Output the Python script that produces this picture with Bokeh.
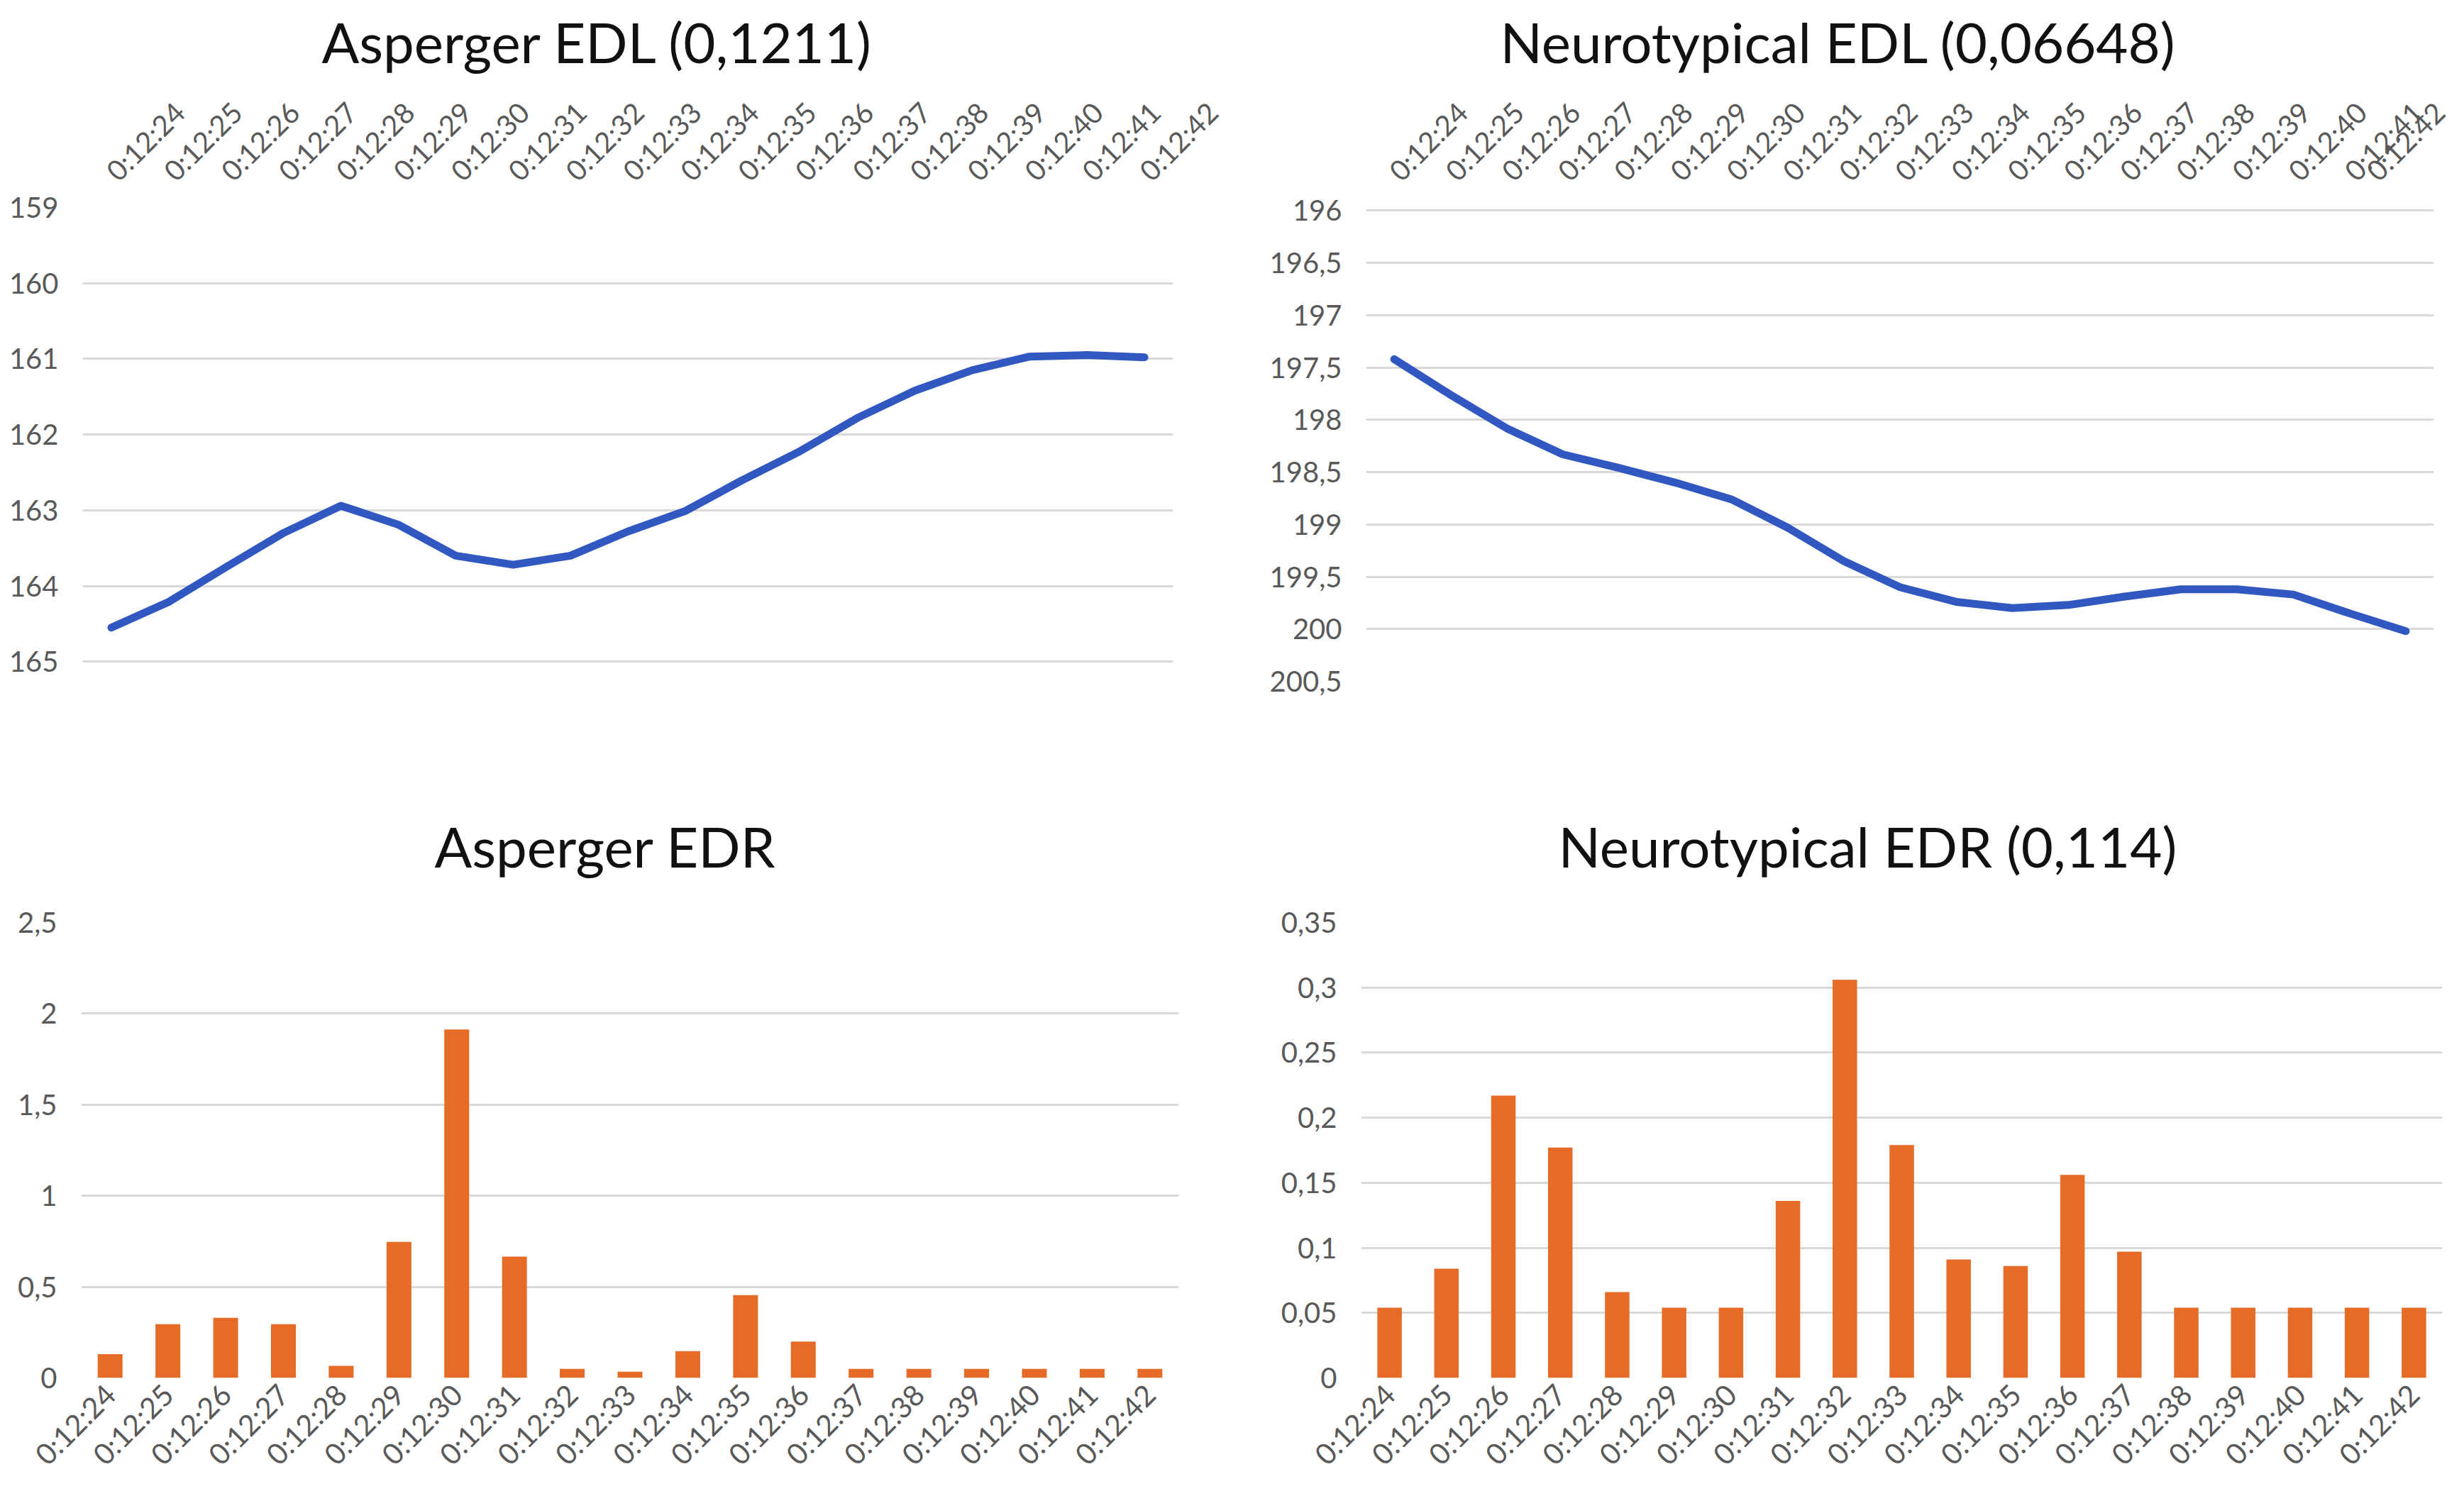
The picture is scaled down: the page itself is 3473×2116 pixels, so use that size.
import math
from bokeh.plotting import figure
from bokeh.models import Range1d, FixedTicker
from bokeh.layouts import column, row
from bokeh.embed import file_html
from bokeh.resources import INLINE

# ---------------- data ----------------
times = ["0:12:24", "0:12:25", "0:12:26", "0:12:27", "0:12:28", "0:12:29", "0:12:30",
         "0:12:31", "0:12:32", "0:12:33", "0:12:34", "0:12:35", "0:12:36", "0:12:37",
         "0:12:38", "0:12:39", "0:12:40", "0:12:41", "0:12:42"]

asperger_edl = [164.55, 164.21, 163.75, 163.30, 162.94, 163.19, 163.60, 163.72, 163.60,
                163.28, 163.01, 162.60, 162.22, 161.78, 161.42, 161.15, 160.97, 160.95, 160.98]

neuro_edl = [197.42, 197.76, 198.08, 198.33, 198.46, 198.60, 198.76, 199.03, 199.35,
             199.60, 199.74, 199.80, 199.77, 199.69, 199.62, 199.62, 199.67, 199.85, 200.02]

asperger_edr = [0.13, 0.295, 0.33, 0.295, 0.066, 0.747, 1.913, 0.666, 0.05, 0.034,
                0.147, 0.455, 0.20, 0.05, 0.05, 0.05, 0.05, 0.05, 0.05]

neuro_edr = [0.054, 0.084, 0.217, 0.177, 0.066, 0.054, 0.054, 0.136, 0.306, 0.179,
             0.091, 0.086, 0.156, 0.097, 0.054, 0.054, 0.054, 0.054, 0.054]

asperger_edl_ticks = [159, 160, 161, 162, 163, 164, 165]
asperger_edl_labels = ["159", "160", "161", "162", "163", "164", "165"]

neuro_edl_ticks = [196, 196.5, 197, 197.5, 198, 198.5, 199, 199.5, 200, 200.5]
neuro_edl_labels = ["196", "196,5", "197", "197,5", "198", "198,5", "199", "199,5", "200", "200,5"]

asperger_edr_ticks = [0, 0.5, 1, 1.5, 2, 2.5]
asperger_edr_labels = ["0", "0,5", "1", "1,5", "2", "2,5"]

neuro_edr_ticks = [0, 0.05, 0.1, 0.15, 0.2, 0.25, 0.3, 0.35]
neuro_edr_labels = ["0", "0,05", "0,1", "0,15", "0,2", "0,25", "0,3", "0,35"]

titles = ["Asperger EDL (0,1211)", "Neurotypical EDL (0,06648)",
          "Asperger EDR", "Neurotypical EDR (0,114)"]

# ---------------- style ----------------
FONT = "Lato"
LABEL_COLOR = "#595959"
GRID_COLOR = "#D9D9D9"
LINE_COLOR = "#3157C1"
BAR_COLOR = "#E56B27"


def make_fig(title, w, h, bl, br, bt, bb, yr, xloc, ticks, labels,
             t_offset, t_standoff, xfont, xstandoff):
    p = figure(width=w, height=h, x_range=times, y_range=yr,
               x_axis_location=xloc, output_backend="svg", toolbar_location=None,
               min_border_left=bl, min_border_right=br, min_border_top=bt,
               min_border_bottom=bb)
    p.outline_line_color = None
    p.background_fill_color = "white"
    p.border_fill_color = "white"
    p.xgrid.visible = False
    p.ygrid.grid_line_color = GRID_COLOR
    p.ygrid.grid_line_width = 3
    p.yaxis.ticker = FixedTicker(ticks=ticks)
    p.yaxis.major_label_overrides = dict(zip(ticks, labels))
    for ax in (p.xaxis, p.yaxis):
        ax.axis_line_color = None
        ax.major_tick_line_color = None
        ax.minor_tick_line_color = None
        ax.major_label_text_font = FONT
        ax.major_label_text_color = LABEL_COLOR
        ax.major_label_text_font_size = "40px"
    p.yaxis.major_label_standoff = 28
    p.xaxis.major_label_orientation = math.pi / 4
    p.xaxis.major_label_standoff = xstandoff
    p.xaxis.major_label_text_font_size = xfont
    p.title.text = title
    p.title.text_font = FONT
    p.title.text_font_size = "78px"
    p.title.text_font_style = "normal"
    p.title.text_color = "#111111"
    p.title.align = "left"
    p.title.offset = t_offset
    p.title.standoff = t_standoff
    return p


p1 = make_fig(titles[0], 1728, 1050, 116, 75, 288, 90, Range1d(165.26, 159), "above",
              asperger_edl_ticks, asperger_edl_labels, 337, 18, "40px", 39)
p1.line(x=times, y=asperger_edl, line_color=LINE_COLOR, line_width=11,
        line_join="round", line_cap="round")

p2 = make_fig(titles[1], 1727, 1050, 197, 25, 288, 90, Range1d(200.5, 195.97), "above",
              neuro_edl_ticks, neuro_edl_labels, 189, 18, "40px", 39)
p2.line(x=times, y=neuro_edl, line_color=LINE_COLOR, line_width=11,
        line_join="round", line_cap="round")

p3 = make_fig(titles[2], 1728, 1050, 114, 67, 250, 158, Range1d(0, 2.5), "below",
              asperger_edr_ticks, asperger_edr_labels, 498, 122, "41px", 10)
p3.vbar(x=times, top=asperger_edr, width=0.43, fill_color=BAR_COLOR, line_color=None)

p4 = make_fig(titles[3], 1727, 1050, 190, 13, 250, 158, Range1d(0, 0.35), "below",
              neuro_edr_ticks, neuro_edr_labels, 278, 122, "41px", 10)
p4.vbar(x=times, top=neuro_edr, width=0.43, fill_color=BAR_COLOR, line_color=None)

layout = column(row(p1, p2), row(p3, p4))

open("out.html", "w").write(file_html(layout, INLINE))
